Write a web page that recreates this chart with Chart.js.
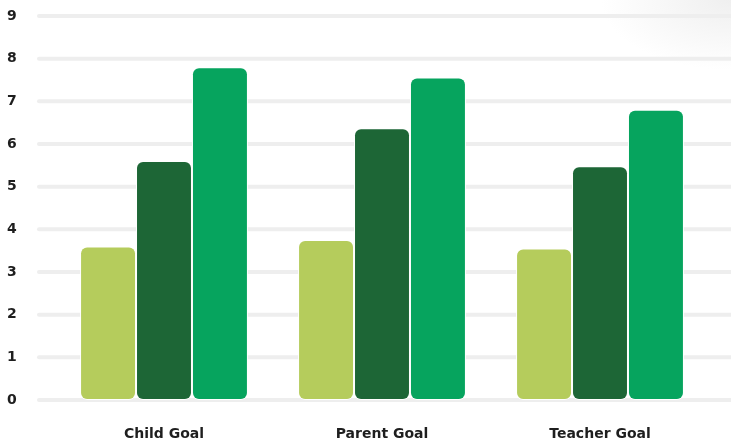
<!DOCTYPE html>
<html>
<head>
<meta charset="utf-8">
<script src="https://cdn.jsdelivr.net/npm/chart.js@4"></script>
<style>
    html, body { margin: 0; padding: 0; }
    body {
        width: 731px; height: 441px; overflow: hidden;
        background: radial-gradient(ellipse 130px 70px at 731px 0px, #efefef 0%, #ffffff 100%);
    }
    #wrap { position: relative; width: 731px; height: 441px; }
</style>
</head>
<body>
<div id="wrap"><canvas id="goalChart"></canvas></div>
<script>
// --- DATA ---
const categories = ['Child Goal', 'Parent Goal', 'Teacher Goal'];
const seriesA = [3.6, 3.75, 3.55];
const seriesB = [5.6, 6.37, 5.48];
const seriesC = [7.8, 7.56, 6.8];
const yTicks = [0, 1, 2, 3, 4, 5, 6, 7, 8, 9];

const colors = ['#b5cc5c', '#1d6636', '#06a45e'];
const labelColor = '#1e1e1e';

// --- Gridlines drawn full width (from just right of tick labels to canvas edge) ---
const gridPlugin = {
    id: 'wideGrid',
    beforeDatasetsDraw(chart) {
        const ctx = chart.ctx;
        const y = chart.scales.y;
        ctx.save();
        ctx.strokeStyle = '#eeeeee';
        ctx.lineWidth = 4;
        ctx.lineCap = 'round';
        yTicks.forEach(v => {
            const py = y.getPixelForValue(v);
            ctx.beginPath();
            ctx.moveTo(39, py);
            ctx.lineTo(chart.width + 4, py);
            ctx.stroke();
        });
        ctx.restore();
    }
};

function makeSet(data, color) {
    return {
        data: data,
        backgroundColor: color,
        borderColor: '#ffffff',
        borderWidth: 1,
        borderSkipped: false,
        borderRadius: 7,
        barPercentage: 1,
        categoryPercentage: 0.77
    };
}

const tickFont = { family: 'DejaVu Sans', weight: 'bold', size: 14 };

new Chart(document.getElementById('goalChart'), {
    type: 'bar',
    data: {
        labels: categories,
        datasets: [
            makeSet(seriesA, colors[0]),
            makeSet(seriesB, colors[1]),
            makeSet(seriesC, colors[2])
        ]
    },
    plugins: [gridPlugin],
    options: {
        responsive: true,
        maintainAspectRatio: false,
        animation: false,
        layout: { padding: { left: 7, right: 22, top: 16, bottom: 0 } },
        plugins: {
            legend: { display: false },
            tooltip: { enabled: false }
        },
        scales: {
            y: {
                min: 0,
                max: 9,
                afterFit: s => { s.width = 48; },
                afterBuildTicks: s => { s.ticks = yTicks.map(v => ({ value: v })); },
                grid: { display: false, drawTicks: false },
                border: { display: false },
                ticks: {
                    crossAlign: 'far',
                    color: labelColor,
                    font: tickFont
                }
            },
            x: {
                afterFit: s => { s.height = 41; },
                grid: { display: false, drawTicks: false },
                border: { display: false },
                ticks: {
                    padding: 26,
                    color: labelColor,
                    font: tickFont
                }
            }
        }
    }
});
</script>
</body>
</html>
